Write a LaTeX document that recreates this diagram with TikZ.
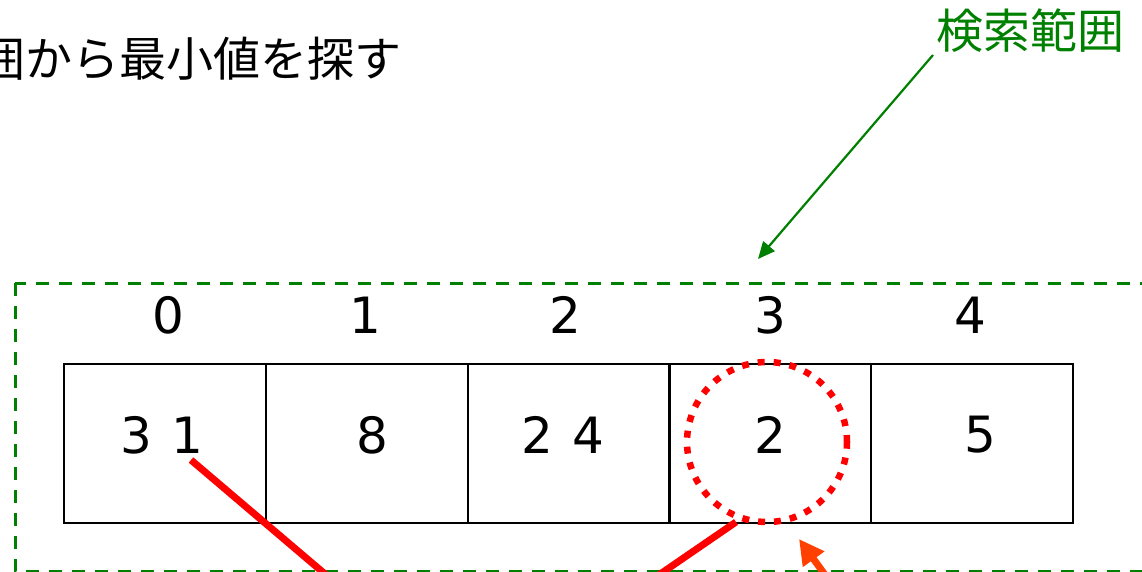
\documentclass[tikz,border=0pt]{standalone}
\usepackage{fontspec}
\setmainfont{DejaVu Sans}
\newfontfamily\cjk{Noto Sans CJK JP}
\usetikzlibrary{arrows.meta}
\definecolor{grn}{RGB}{0,128,0}
\definecolor{orr}{RGB}{255,64,0}
\definecolor{rd}{RGB}{255,0,0}
\begin{document}
\begin{tikzpicture}[x=1pt,y=-1pt,
  cell/.style={draw=black,line width=2pt,minimum width=202pt,minimum height=159pt,inner sep=0pt,anchor=north west},
  num/.style={font=\fontsize{50}{55}\selectfont,inner sep=0pt},
  jp/.style={font=\cjk\fontsize{47}{50}\selectfont,inner sep=0pt},
  redline/.style={draw=rd,line width=7pt},
  ]
\useasboundingbox (0,0) rectangle (1142,571);
\clip (0,0) rectangle (1142,571);
\fill[white] (0,0) rectangle (1142,571);

% title (cut at left edge)
\node[jp,anchor=base east] (title) at (402,76) {囲から最小値を探す};
% range label
\node[jp,anchor=base west,text=grn] (lbl) at (936,48) {検索範囲};

% dashed search range
\draw[grn,line width=3pt,dash pattern=on 13pt off 10pt] (15,283) rectangle (1170,571);
\coordinate (rngtop) at (758,259);
\coordinate (lblfoot) at (933,55);
\draw[grn,line width=2.2pt,-{Triangle[length=17pt,width=15pt]}] (lblfoot) -- (rngtop);

% cells
\node[cell] (c0) at (63,363) {};
\node[cell] (c1) at (265,363) {};
\node[cell] (c2) at (467,363) {};
\node[cell] (c3) at (668,363) {};
\node[cell] (c4) at (870,363) {};

% indices
\node[num] (i0) at (168,315) {0};
\node[num] (i1) at (365,315) {1};
\node[num] (i2) at (565,315) {2};
\node[num] (i3) at (770,315) {3};
\node[num] (i4) at (970,315) {4};

% values
\node[num] (v0) at (162,435) {3\hskip 20pt 1};
\node[num] (v1) at (372,435) {8};
\node[num] (v2) at (563,435) {2\hskip 20pt 4};
\node[num] (v3) at (770,435) {2};
\node[num] (v4) at (980,435) {5};

% dotted circle
\node[draw=rd,circle,line width=6.5pt,minimum size=160pt,inner sep=0pt,dash pattern=on 7pt off 9pt] (circ) at (767,442) {};

% red lines
\coordinate (a0) at (191,460);
\coordinate (a1) at (345,591);
\coordinate (b0) at (736,522);
\coordinate (b1) at (650,581);
\draw[redline] (a0) -- (a1);
\draw[redline] (b0) -- (b1);

% orange arrow
\coordinate (o0) at (836,590);
\coordinate (o1) at (799,539);
\draw[orr,line width=7pt,-{Triangle[length=25pt,width=25pt]}] (o0) -- (o1);
\end{tikzpicture}
\end{document}
